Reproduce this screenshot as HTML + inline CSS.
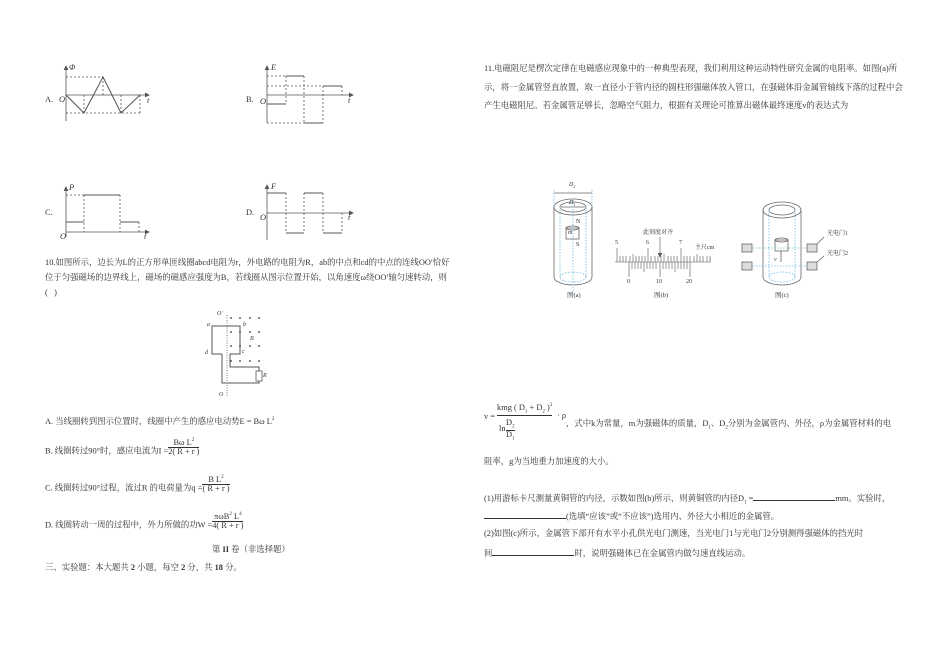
<!DOCTYPE html>
<html><head><meta charset="utf-8"><style>
body{margin:0;background:#fff;}
#p{position:relative;width:950px;height:672px;overflow:hidden;background:#fff;font-family:"Liberation Serif","Noto Serif CJK SC","Noto Sans CJK SC",serif;color:#333;font-size:8.4px;}
.t{position:absolute;white-space:nowrap;line-height:1;}
.fr{display:inline-block;vertical-align:middle;text-align:center;}
.fr span{display:block;}
.fr .n{border-bottom:0.8px solid #333;padding:0 1px;}
svg{position:absolute;left:0;top:0;}
</style></head><body><div id="p">
<svg width="950" height="672" viewBox="0 0 950 672" fill="none" stroke="#555" stroke-width="0.8">
<line x1="66" y1="121" x2="66" y2="67"/><path d="M64 70 L66 66 L68 70" fill="#555"/>
<line x1="66" y1="95" x2="148" y2="95"/><path d="M145 93 L149 95 L145 97" fill="#555"/>
<g stroke-dasharray="2 2"><line x1="66" y1="77" x2="103" y2="77"/><line x1="66" y1="113" x2="140" y2="113"/><line x1="84" y1="95" x2="84" y2="113"/><line x1="103" y1="77" x2="103" y2="95"/><line x1="121" y1="95" x2="121" y2="113"/><line x1="140" y1="95" x2="140" y2="113"/></g>
<polyline points="66,95 84,113 103,77 121,113 140,95" stroke-width="1"/>
<line x1="267" y1="123" x2="267" y2="66"/><path d="M265 70 L267 66 L269 70" fill="#555"/>
<line x1="267" y1="95" x2="352" y2="95"/><path d="M349 93 L353 95 L349 97" fill="#555"/>
<g stroke-dasharray="2 2"><line x1="267" y1="76" x2="286" y2="76"/><line x1="267" y1="86" x2="324" y2="86"/><line x1="267" y1="123" x2="304" y2="123"/><line x1="286" y1="76" x2="286" y2="104"/><line x1="304" y1="76" x2="304" y2="123"/><line x1="323" y1="86" x2="323" y2="123"/><line x1="342" y1="86" x2="342" y2="95"/></g>
<g stroke-width="1"><line x1="267" y1="104" x2="286" y2="104"/><line x1="286" y1="76" x2="304" y2="76"/><line x1="304" y1="123" x2="323" y2="123"/><line x1="323" y1="86" x2="342" y2="86"/></g>
<line x1="66" y1="237" x2="66" y2="187"/><path d="M64 191 L66 187 L68 191" fill="#555"/>
<line x1="66" y1="232" x2="148" y2="232"/><path d="M145 230 L149 232 L145 234" fill="#555"/>
<g stroke-dasharray="2 2"><line x1="66" y1="195" x2="84" y2="195"/><line x1="84" y1="195" x2="84" y2="232"/><line x1="120" y1="195" x2="120" y2="232"/><line x1="139" y1="222" x2="139" y2="232"/></g>
<g stroke-width="1"><line x1="66" y1="222" x2="84" y2="222"/><line x1="84" y1="195" x2="120" y2="195"/><line x1="120" y1="222" x2="139" y2="222"/></g>
<line x1="267" y1="240" x2="267" y2="185"/><path d="M265 189 L267 185 L269 189" fill="#555"/>
<line x1="267" y1="213" x2="352" y2="213"/><path d="M349 211 L353 213 L349 215" fill="#555"/>
<g stroke-dasharray="2 2"><line x1="286" y1="193" x2="286" y2="233"/><line x1="304" y1="193" x2="304" y2="233"/><line x1="323" y1="193" x2="323" y2="233"/><line x1="342" y1="213" x2="342" y2="233"/></g>
<g stroke-width="1"><line x1="267" y1="193" x2="286" y2="193"/><line x1="286" y1="233" x2="304" y2="233"/><line x1="304" y1="193" x2="323" y2="193"/><line x1="323" y1="233" x2="342" y2="233"/></g>
<line x1="227" y1="315" x2="227" y2="397" stroke-dasharray="1 1.5"/>
<polyline points="222,354 212,354 212,326 240,326 240,354 230,354 230,367 259,367 259,383 222,383 222,354" stroke-width="1"/>
<rect x="256" y="371" width="6" height="10" fill="#fff"/>
<g fill="#333" stroke="none">
<circle cx="231" cy="318" r="0.9"/><circle cx="240" cy="318" r="0.9"/><circle cx="250" cy="318" r="0.9"/><circle cx="259" cy="318" r="0.9"/>
<circle cx="231" cy="332" r="0.9"/><circle cx="240" cy="332" r="0.9"/><circle cx="250" cy="332" r="0.9"/><circle cx="259" cy="332" r="0.9"/>
<circle cx="231" cy="346" r="0.9"/><circle cx="240" cy="346" r="0.9"/><circle cx="250" cy="346" r="0.9"/><circle cx="259" cy="346" r="0.9"/>
<circle cx="231" cy="361" r="0.9"/><circle cx="240" cy="361" r="0.9"/><circle cx="250" cy="361" r="0.9"/><circle cx="259" cy="361" r="0.9"/>
</g>
<g stroke="#666">
<ellipse cx="573" cy="207" rx="19" ry="8"/><ellipse cx="573" cy="207" rx="13" ry="5"/>
<line x1="554" y1="207" x2="554" y2="277"/><line x1="592" y1="207" x2="592" y2="277"/>
<path d="M554 277 A19 8 0 0 0 592 277"/>
<rect x="566" y="228" width="13" height="11"/><ellipse cx="572.5" cy="228" rx="6.5" ry="2"/>
<line x1="554" y1="193" x2="592" y2="193"/>
<line x1="561" y1="207" x2="585" y2="207"/>
</g>
<g stroke="#6bb7e0" stroke-dasharray="1.5 1.5"><line x1="573" y1="200" x2="573" y2="295"/><line x1="554" y1="190" x2="554" y2="207"/><line x1="592" y1="190" x2="592" y2="207"/><line x1="560" y1="207" x2="560" y2="277"/><line x1="586" y1="207" x2="586" y2="277"/><ellipse cx="573" cy="277" rx="13" ry="5"/></g>
<g stroke="#555" stroke-width="0.6">
<line x1="615" y1="262" x2="711" y2="262"/>
<line x1="617" y1="248" x2="617" y2="262"/><line x1="648" y1="248" x2="648" y2="262"/><line x1="681" y1="248" x2="681" y2="262"/>
<path d="M620 262v-6M623 262v-6M626 262v-6M630 262v-6M633 262v-8M636 262v-6M639 262v-6M642 262v-6M645 262v-6M651 262v-6M655 262v-6M658 262v-6M661 262v-6M664 262v-8M668 262v-6M671 262v-6M674 262v-6M677 262v-6M684 262v-6M687 262v-6M690 262v-6M694 262v-6M697 262v-8M700 262v-6M703 262v-6M707 262v-6M710 262v-6"/>
<path d="M629 262v15M632 262v7M635 262v7M638 262v7M641 262v7M644 262v10M647 262v7M650 262v7M653 262v7M656 262v7M660 262v15M663 262v7M666 262v7M669 262v7M672 262v7M675 262v10M678 262v7M681 262v7M684 262v7M687 262v7M690 262v15"/>
<line x1="660" y1="237" x2="660" y2="256"/><path d="M658 253 L660 257 L662 253" fill="#555"/>
</g>
<g stroke="#666">
<ellipse cx="782" cy="210" rx="19" ry="8"/><ellipse cx="782" cy="210" rx="13" ry="5"/>
<line x1="763" y1="210" x2="763" y2="277"/><line x1="801" y1="210" x2="801" y2="277"/>
<path d="M763 277 A19 8 0 0 0 801 277"/>
<rect x="775" y="240" width="13" height="11"/><ellipse cx="781.5" cy="240" rx="6.5" ry="2"/>
<line x1="781" y1="251" x2="781" y2="262"/>
<g fill="#ddd"><rect x="742" y="244" width="10" height="8"/><rect x="742" y="262" width="10" height="8"/>
<rect x="807" y="244" width="10" height="8"/><rect x="807" y="262" width="10" height="8"/></g>
<line x1="817" y1="244" x2="824" y2="237"/><line x1="817" y1="262" x2="824" y2="256"/>
</g>
<g stroke="#6bb7e0" stroke-dasharray="1.5 1.5"><line x1="753" y1="248" x2="807" y2="248"/><line x1="753" y1="266" x2="807" y2="266"/><ellipse cx="782" cy="277" rx="13" ry="5"/><line x1="769" y1="210" x2="769" y2="277"/><line x1="795" y1="210" x2="795" y2="277"/></g>
</svg>

<div class="t" style="left:45px;top:96px">A.</div><div class="t" style="left:59px;top:96px;font-style:italic">O</div><div class="t" style="left:69px;top:64px;font-style:italic">Φ</div><div class="t" style="left:147px;top:97px;font-style:italic">t</div>
<div class="t" style="left:246px;top:96px">B.</div><div class="t" style="left:260px;top:98px;font-style:italic">O</div><div class="t" style="left:271px;top:64px;font-style:italic">E</div><div class="t" style="left:348px;top:97px;font-style:italic">t</div>
<div class="t" style="left:45px;top:209px">C.</div><div class="t" style="left:60px;top:233px;font-style:italic">O</div><div class="t" style="left:69px;top:184px;font-style:italic">P</div><div class="t" style="left:144px;top:233px;font-style:italic">t</div>
<div class="t" style="left:246px;top:209px">D.</div><div class="t" style="left:260px;top:214px;font-style:italic">O</div><div class="t" style="left:271px;top:183px;font-style:italic">F</div><div class="t" style="left:348px;top:214px;font-style:italic">t</div>

<div class="t" style="left:45px;top:259px">10.如图所示，边长为L的正方形单匝线圈abcd电阻为r，外电路的电阻为R，ab的中点和cd的中点的连线OO′恰好</div>
<div class="t" style="left:45px;top:274px">位于匀强磁场的边界线上，磁场的磁感应强度为B，若线圈从图示位置开始，以角速度ω绕OO′轴匀速转动，则</div>
<div class="t" style="left:45px;top:289px">(&nbsp;&nbsp;&nbsp;)</div>
<div class="t" style="left:217px;top:311px;font-size:6px;font-style:italic">O′</div>
<div class="t" style="left:207px;top:322px;font-size:6px;font-style:italic">a</div><div class="t" style="left:243px;top:322px;font-size:6px;font-style:italic">b</div>
<div class="t" style="left:250px;top:336px;font-size:6px;font-style:italic">B</div>
<div class="t" style="left:205px;top:350px;font-size:6px;font-style:italic">d</div><div class="t" style="left:242px;top:349px;font-size:6px;font-style:italic">c</div>
<div class="t" style="left:263px;top:373px;font-size:6px;font-style:italic">R</div>
<div class="t" style="left:219px;top:392px;font-size:6px;font-style:italic">O</div>

<div class="t" style="left:45px;top:417px">A. 当线圈转到图示位置时，线圈中产生的感应电动势E = Bω L<sup style="font-size:5px">2</sup></div>
<div class="t" style="left:45px;top:447px">B. 线圈转过90°时，感应电流为I =<span class="fr" style="margin-top:-9px"><span class="n">Bω L<sup style="font-size:5px">2</sup></span><span>2( R + r )</span></span></div>
<div class="t" style="left:45px;top:484px">C. 线圈转过90°过程，流过R 的电荷量为q =<span class="fr" style="margin-top:-9px"><span class="n">B L<sup style="font-size:5px">2</sup></span><span>( R + r )</span></span></div>
<div class="t" style="left:45px;top:521px">D. 线圈转动一周的过程中，外力所做的功W =<span class="fr" style="margin-top:-9px"><span class="n">πωB<sup style="font-size:5px">2</sup> L<sup style="font-size:5px">4</sup></span><span>4( R + r )</span></span></div>
<div class="t" style="left:212px;top:546px">第 <b>II</b> 卷（非选择题）</div>
<div class="t" style="left:45px;top:564px">三、实验题：本大题共 <b>2</b> 小题，每空 <b>2</b> 分，共 <b>18</b> 分。</div>

<div class="t" style="left:484px;top:65px">11.电磁阻尼是楞次定律在电磁感应现象中的一种典型表现，我们利用这种运动特性研究金属的电阻率。如图(a)所</div>
<div class="t" style="left:484px;top:84px">示，将一金属管竖直放置，取一直径小于管内径的圆柱形强磁体放入管口，在强磁体沿金属管轴线下落的过程中会</div>
<div class="t" style="left:484px;top:102px">产生电磁阻尼。若金属管足够长，忽略空气阻力，根据有关理论可推算出磁体最终速度v的表达式为</div>

<div class="t" style="left:569px;top:182px;font-size:6px;font-style:italic">D<sub style="font-size:4px">2</sub></div>
<div class="t" style="left:569px;top:200px;font-size:6px;font-style:italic">D<sub style="font-size:4px">1</sub></div>
<div class="t" style="left:576px;top:219px;font-size:6px">N</div><div class="t" style="left:568px;top:230px;font-size:6px;font-style:italic">m</div><div class="t" style="left:576px;top:242px;font-size:6px">S</div>
<div class="t" style="left:567px;top:293px;font-size:6.5px">图(a)</div>
<div class="t" style="left:615px;top:240px;font-size:6px">5</div><div class="t" style="left:646px;top:240px;font-size:6px">6</div><div class="t" style="left:679px;top:240px;font-size:6px">7</div>
<div class="t" style="left:643px;top:230px;font-size:6px">此刻度对齐</div><div class="t" style="left:695px;top:245px;font-size:6px">主尺cm</div>
<div class="t" style="left:627px;top:279px;font-size:6px">0</div><div class="t" style="left:656px;top:279px;font-size:6px">10</div><div class="t" style="left:686px;top:279px;font-size:6px">20</div>
<div class="t" style="left:654px;top:293px;font-size:6.5px">图(b)</div>
<div class="t" style="left:774px;top:257px;font-size:6px;font-style:italic">v</div>
<div class="t" style="left:827px;top:231px;font-size:6px">光电门1</div><div class="t" style="left:827px;top:251px;font-size:6px">光电门2</div>
<div class="t" style="left:775px;top:293px;font-size:6.5px">图(c)</div>

<div class="t" style="left:484px;top:413px">v =</div>
<div class="t" style="left:497px;top:403px;border-bottom:0.8px solid #333;padding-bottom:1px">kmg ( D<sub style="font-size:5px">1</sub> + D<sub style="font-size:5px">2</sub> )<sup style="font-size:5px">3</sup></div>
<div class="t" style="left:499px;top:425px">ln</div>
<div class="t" style="left:506px;top:419px;text-align:center"><span style="display:block;border-bottom:0.8px solid #333">D<sub style="font-size:5px">2</sub></span><span style="display:block">D<sub style="font-size:5px">1</sub></span></div>
<div class="t" style="left:557px;top:412px">· ρ</div>
<div class="t" style="left:566px;top:420px">，式中k为常量，m为强磁体的质量，D<sub style="font-size:5px">1</sub>、D<sub style="font-size:5px">2</sub>分别为金属管内、外径，ρ为金属管材料的电</div>
<div class="t" style="left:484px;top:458px">阻率，g为当地重力加速度的大小。</div>
<div class="t" style="left:484px;top:495px">(1)用游标卡尺测量黄铜管的内径，示数如图(b)所示，则黄铜管的内径D<sub style="font-size:5px">1</sub> =<span style="display:inline-block;width:82px;border-bottom:0.8px solid #333"></span>mm。实验时，</div>
<div class="t" style="left:484px;top:513px"><span style="display:inline-block;width:82px;border-bottom:0.8px solid #333"></span>(选填“应该”或“不应该”)选用内、外径大小相近的金属管。</div>
<div class="t" style="left:484px;top:530px">(2)如图(c)所示，金属管下部开有水平小孔供光电门测速，当光电门1与光电门2分别测得强磁体的挡光时</div>
<div class="t" style="left:484px;top:550px">间<span style="display:inline-block;width:82px;border-bottom:0.8px solid #333"></span>时，说明强磁体已在金属管内做匀速直线运动。</div>
</div></body></html>
